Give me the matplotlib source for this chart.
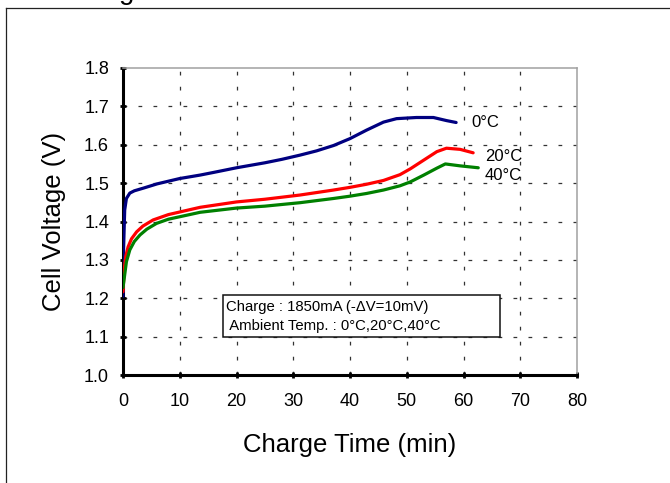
#-------------------------------------------Libraries
import matplotlib
matplotlib.use('Agg')
import matplotlib.pyplot as plt
from matplotlib.lines import Line2D
from matplotlib.patches import Rectangle

#-------------------------------------------data
temps = ['0°C', '20°C', '40°C']
colors = ['#000080', '#ff0000', '#008000']

t_0c = [0, 0.1, 0.3, 0.6, 1.2, 2, 3.6, 6, 10, 13.6, 16, 20, 25, 28, 31.2, 34.1,
        37.1, 40.0, 42.9, 45.9, 48.2, 51.7, 54.7, 57.0, 58.7]
v_0c = [1.205, 1.33, 1.43, 1.46, 1.474, 1.48, 1.487, 1.498, 1.512, 1.521,
        1.528, 1.540, 1.553, 1.562, 1.573, 1.584, 1.598, 1.616, 1.638, 1.659,
        1.668, 1.671, 1.671, 1.663, 1.658]

t_20c = [0, 0.2, 0.5, 0.9, 1.5, 2.4, 3.5, 5.3, 8, 13.6, 20, 25, 31.2, 37.1,
         40.0, 42.9, 45.9, 48.8, 50.6, 53.0, 55.3, 57.0, 59.4, 61.7]
v_20c = [1.217, 1.274, 1.31, 1.334, 1.355, 1.373, 1.388, 1.404, 1.418, 1.437,
         1.451, 1.458, 1.469, 1.482, 1.489, 1.497, 1.507, 1.522, 1.537, 1.560,
         1.582, 1.591, 1.588, 1.579]

t_40c = [0, 0.2, 0.6, 1.2, 2, 3, 4.2, 5.9, 8, 13.6, 20, 25, 31.2, 37.1,
         40.0, 42.9, 45.9, 48.8, 50.6, 53.0, 55.3, 56.8, 59.4, 62.6]
v_40c = [1.228, 1.25, 1.295, 1.326, 1.348, 1.365, 1.38, 1.395, 1.406, 1.424,
         1.435, 1.440, 1.449, 1.460, 1.466, 1.473, 1.482, 1.493, 1.503, 1.521,
         1.539, 1.550, 1.545, 1.540]

series_t = [t_0c, t_20c, t_40c]
series_v = [v_0c, v_20c, v_40c]

# where the temperature names sit (data coords)
label_t = [61.4, 63.8, 63.8]
label_v = [1.6585, 1.569, 1.521]

note_lines = ['Charge : 1850mA (-\u0394V=10mV)', ' Ambient Temp. : 0°C,20°C,40°C']

x_ticks = list(range(0, 90, 10))
y_ticks = [1.0, 1.1, 1.2, 1.3, 1.4, 1.5, 1.6, 1.7, 1.8]

#-------------------------------------------figure
plt.rcParams['font.family'] = ['Liberation Sans', 'DejaVu Sans']
fig = plt.figure(figsize=(6.7, 4.83), dpi=100)
ax = fig.add_axes([123 / 670, 1 - 375 / 483, 454 / 670, 307 / 483])

# outer frame (only the top and left edges show) + cut-off title
fx = 5.5 / 670
fy = 1 - 8.3 / 483
fig.add_artist(Line2D([fx, fx], [0, fy], color='#222222', lw=0.9))
fig.add_artist(Line2D([fx, 1], [fy, fy], color='#222222', lw=0.9))
fig.text(60 / 670, 1 + 1.0 / 483, 'Charge', fontsize=20, va='baseline', ha='left')

#-------------------------------------------grid
for xt in x_ticks[1:-1]:
    ax.plot([xt, xt], [1.0, 1.8], color='#333333', lw=0.9,
            linestyle=(0, (3, 9)), zorder=1)
for yt in y_ticks[1:-1]:
    ax.plot([0, 80], [yt, yt], color='#333333', lw=0.9,
            linestyle=(0, (3, 9)), zorder=1)

#-------------------------------------------curves
for t, v, c in zip(series_t, series_v, colors):
    ax.plot(t, v, color=c, lw=2.3, solid_capstyle='round',
            solid_joinstyle='round', zorder=3)

for name, lt, lv in zip(temps, label_t, label_v):
    ax.text(lt, lv, name, fontsize=12, ha='left', va='center', zorder=4)

#-------------------------------------------note box
ax.add_patch(Rectangle((0.2203, 0.1238), 0.6101, 0.1368, transform=ax.transAxes,
                       facecolor='white', edgecolor='#111111', lw=1.1, zorder=2))
ax.text(0.2269, 0.2225, note_lines[0], transform=ax.transAxes, fontsize=10.7,
        ha='left', va='center', zorder=4)
ax.text(0.2269, 0.1596, note_lines[1], transform=ax.transAxes, fontsize=10.7,
        ha='left', va='center', zorder=4)

#-------------------------------------------axes styling
ax.set_xlim(0, 80)
ax.set_ylim(1.0, 1.8)
ax.set_xticks(x_ticks)
ax.set_yticks(y_ticks)
ax.set_yticklabels([f'{y:.1f}' for y in y_ticks])
ax.tick_params(axis='both', direction='inout', length=4, width=2, labelsize=13)
ax.tick_params(axis='x', pad=11)
ax.tick_params(axis='y', pad=8)
for side in ['left', 'bottom']:
    ax.spines[side].set_linewidth(2.2)
    ax.spines[side].set_color('black')
for side in ['top', 'right']:
    ax.spines[side].set_linewidth(1.1)
    ax.spines[side].set_color('#a0a0a0')

ax.set_xlabel('Charge Time (min)', fontsize=18.5)
ax.set_ylabel('Cell Voltage (V)', fontsize=18.5)
ax.xaxis.set_label_coords(0.5, -0.19)
ax.yaxis.set_label_coords(-0.125, 0.5)

fig.savefig('out.png', dpi=100)
